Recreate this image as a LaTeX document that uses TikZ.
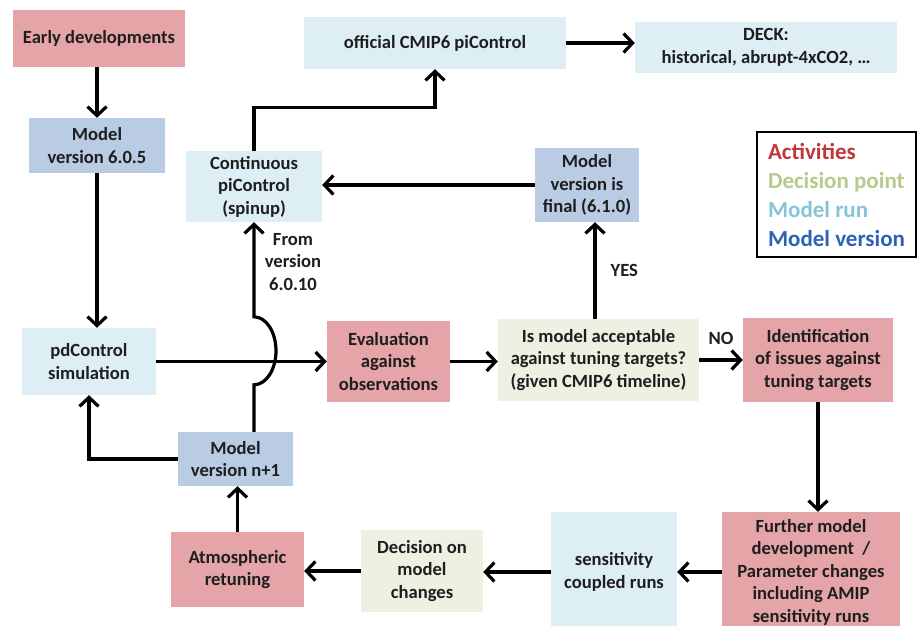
\documentclass[tikz,border=0pt]{standalone}
\usepackage{fontspec}
\setmainfont{Carlito}
\usetikzlibrary{arrows.meta}
\definecolor{actfill}{HTML}{E5A4A7}
\definecolor{verfill}{HTML}{B9CCE4}
\definecolor{runfill}{HTML}{DDEEF5}
\definecolor{decfill}{HTML}{EEF0E1}
\definecolor{actleg}{HTML}{C0373A}
\definecolor{decleg}{HTML}{B5CB8B}
\definecolor{runleg}{HTML}{86C5D9}
\definecolor{verleg}{HTML}{2E62B6}
\definecolor{txt}{HTML}{1E1E1E}
\begin{document}
\begin{tikzpicture}[x=1pt,y=-1pt,
 box/.style={rectangle, inner sep=0pt, align=center, text=txt, font=\bfseries\fontsize{18.6}{22.5}\selectfont},
 act/.style={box, fill=actfill},
 ver/.style={box, fill=verfill},
 run/.style={box, fill=runfill},
 dec/.style={box, fill=decfill},
 conn/.style={line width=3.2pt, draw=black, -{Straight Barb[length=9pt,width=19pt]}},
 lbl/.style={font=\bfseries\fontsize{18.6}{22.5}\selectfont, text=txt, align=center, inner sep=0pt}
]
\fill[white] (0,0) rectangle (918,626);
\useasboundingbox (0,0) rectangle (918,626);

\node[act, minimum width=172pt, minimum height=57pt] (early) at (99,38.5) {Early developments};
\node[ver, minimum width=136pt, minimum height=55pt] (v605) at (97,145.5) {Model\\version 6.0.5};
\node[run, minimum width=262pt, minimum height=52pt] (official) at (435,43) {official CMIP6 piControl};
\node[run, minimum width=262pt, minimum height=51pt] (deck) at (766,47.5) {DECK:\\historical, abrupt-4xCO2, …};
\node[run, minimum width=136pt, minimum height=71pt] (cont) at (254,186.5) {Continuous\\piControl\\(spinup)};
\node[ver, minimum width=104pt, minimum height=74pt] (final) at (587,185) {Model\\version is\\final (6.1.0)};
\node[run, minimum width=134pt, minimum height=67pt] (pd) at (89,361.5) {pdControl\\simulation};
\node[act, minimum width=123pt, minimum height=81pt] (eval) at (388.5,361.5) {Evaluation\\against\\observations};
\node[dec, minimum width=201pt, minimum height=82pt] (accept) at (598.5,360) {Is model acceptable\\against tuning targets?\\(given CMIP6 timeline)};
\node[act, minimum width=150pt, minimum height=84pt] (ident) at (818,360) {Identification\\of issues against\\tuning targets};
\node[ver, minimum width=115pt, minimum height=54pt] (nplus) at (235.5,459) {Model\\version n+1};
\node[act, minimum width=133pt, minimum height=75pt] (atm) at (237.5,569.5) {Atmospheric\\retuning};
\node[dec, minimum width=122pt, minimum height=82pt] (decis) at (422,571) {Decision on\\model\\changes};
\node[run, minimum width=126pt, minimum height=120pt] (sens) at (614,572) {sensitivity\\coupled runs};
\node[act, minimum width=178pt, minimum height=120pt] (further) at (811,572) {Further model\\development~~/\\Parameter changes\\including AMIP\\sensitivity runs};

\node[draw=black, line width=2pt, fill=white, minimum width=159pt, minimum height=125pt, align=left, inner sep=0pt, font=\bfseries\fontsize{23}{29}\selectfont] (legend) at (836.5,194.5) {\textcolor{actleg}{Activities}\\\textcolor{decleg}{Decision point}\\\textcolor{runleg}{Model run}\\\textcolor{verleg}{Model version}};

\draw[conn] (v605.north |- early.south) -- (v605.north);
\draw[conn] (v605.south) -- (v605.south |- pd.north);
\draw[conn] (pd.east) -- (eval.west);
\draw[conn] (eval.east) -- (eval.east -| accept.west);
\draw[conn] (accept.east) -- (ident.west) node[lbl, midway, above=14pt] (nolbl) {NO};
\draw[conn] ([xshift=-3.5pt]accept.north) -- ([xshift=-3.5pt]accept.north |- final.south) node[lbl, pos=0.5, right=14pt] (yeslbl) {YES};
\draw[conn] (final.west) -- (final.west -| cont.east);
\draw[conn] (cont.north) -- ++(0,-43) -| (official.south);
\draw[conn] (official.east) -- (deck.west |- official.east);
\draw[conn] (ident.south) -- (ident.south |- further.north);
\draw[conn] (further.west) -- (sens.east);
\draw[conn] (sens.west) -- (sens.west -| decis.east);
\draw[conn] (decis.west) -- (decis.west -| atm.east);
\draw[conn] (atm.north) -- (atm.north |- nplus.south);
\draw[conn] (nplus.west) -| (pd.south);
\draw[conn] ([xshift=18.5pt]nplus.north) -- ++(0,-47) arc[start angle=90, end angle=-90, x radius=22, y radius=34] -- (cont.south);
\node[lbl] (fromlbl) at (293,262) {From\\version\\6.0.10};
\end{tikzpicture}
\end{document}
